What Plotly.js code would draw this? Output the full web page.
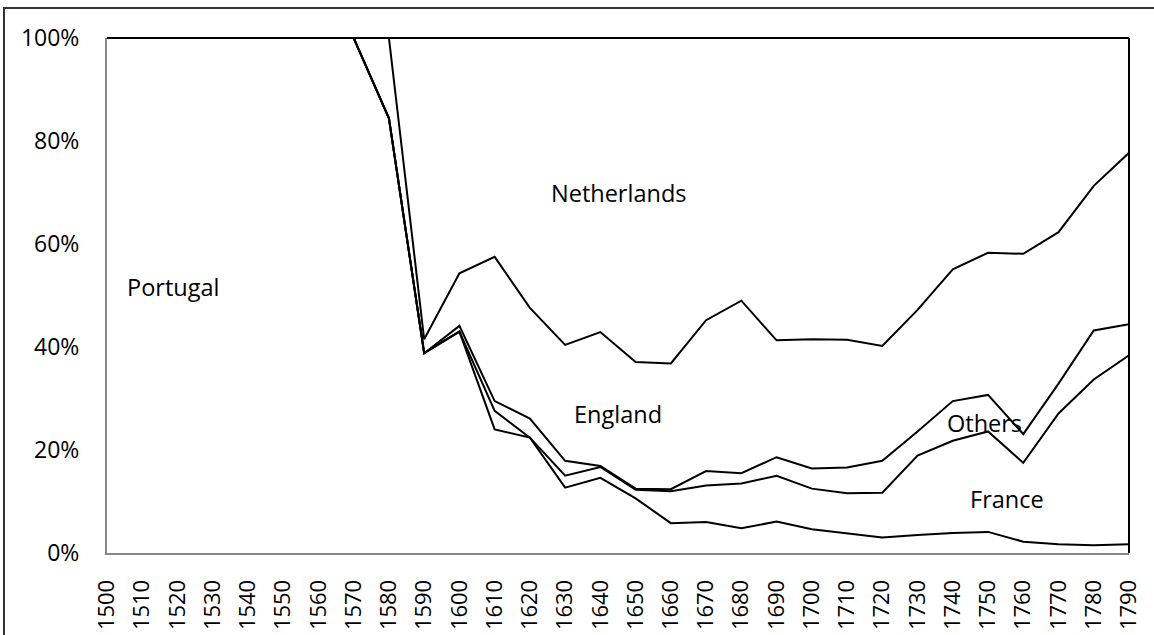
<!DOCTYPE html>
<html>
<head>
<meta charset="utf-8">
<script src="https://cdn.plot.ly/plotly-3.0.1.min.js"></script>
<style>html,body{margin:0;padding:0;background:#fff;}#chart{width:1154px;height:635px;}</style>
</head>
<body>
<div id="chart"></div>
<script>
// Decades
const years = [1500,1510,1520,1530,1540,1550,1560,1570,1580,1590,1600,1610,1620,1630,1640,1650,1660,1670,1680,1690,1700,1710,1720,1730,1740,1750,1760,1770,1780,1790];
// Shares (%) per country, stacked from bottom to top
const portugal    = [100,100,100,100,100,100,100,100,84.4,38.8,43.0,24.0,22.4,12.7,14.6,10.6,5.8,6.0,4.8,6.1,4.6,3.8,3.0,3.5,3.9,4.1,2.2,1.7,1.5,1.7];
const france      = [0,0,0,0,0,0,0,0,0,0,0,3.6,0,2.3,2.1,1.7,6.2,7.1,8.7,8.9,7.9,7.8,8.7,15.4,17.9,19.5,15.3,25.4,32.2,36.7];
const others      = [0,0,0,0,0,0,0,0,0,0,1.1,1.9,3.7,2.9,0.2,0.2,0.4,2.8,2.0,3.6,3.9,5.0,6.2,4.7,7.7,7.1,5.6,5.8,9.5,6.0];
const england     = [0,0,0,0,0,0,0,0,15.6,2.7,10.2,28.0,21.5,22.5,26.0,24.6,24.4,29.3,33.5,22.7,25.1,24.8,22.3,23.6,25.6,27.6,35.0,29.4,28.1,33.3];
const netherlands = [0,0,0,0,0,0,0,0,0,58.5,45.7,42.5,52.4,59.6,57.1,62.9,63.2,54.8,51.0,58.7,58.5,58.6,59.8,52.8,44.9,41.7,41.9,37.7,28.7,22.3];

const seriesNames = ['Portugal','France','Others','England','Netherlands'];
const seriesData = [portugal, france, others, england, netherlands];
const yTicks = [0,20,40,60,80,100];

const FONT = 'Open Sans, Noto Sans, sans-serif';

const traces = seriesData.map((vals, i) => ({
  type: 'scatter',
  mode: 'lines',
  name: seriesNames[i],
  x: years,
  y: vals,
  stackgroup: 'share',
  fill: 'none',
  line: {color: '#000000', width: 2},
  hoverinfo: 'x+y+name',
  cliponaxis: false
}));

// label positions (x in years, y in %)
const labels = [
  {text: 'Portugal', x: 1518.6, y: 51.7},
  {text: 'Netherlands', x: 1645, y: 69.9},
  {text: 'England', x: 1645, y: 26.9},
  {text: 'Others', x: 1749, y: 25.2},
  {text: 'France', x: 1755.5, y: 10.4}
];

const layout = {
  width: 1154, height: 635,
  margin: {l: 107, r: 25, t: 38, b: 82, pad: 0},
  paper_bgcolor: '#ffffff', plot_bgcolor: '#ffffff',
  showlegend: false,
  font: {family: FONT, size: 23, color: '#000000'},
  xaxis: {
    type: 'linear',
    range: [years[0], years[years.length-1]],
    tickvals: years,
    ticktext: years.map(String),
    tickangle: -90,
    showgrid: false, zeroline: false,
    showline: true, linecolor: '#868686', linewidth: 2,
    ticks: '',
    ticklabelstandoff: 16,
    tickfont: {family: FONT, size: 22, color: '#000000'}
  },
  yaxis: {
    range: [0, 100],
    tickvals: yTicks,
    ticktext: yTicks.map(v => v + '%'),
    showgrid: false, zeroline: false,
    showline: true, linecolor: '#868686', linewidth: 2,
    ticks: '',
    ticklabelstandoff: 21,
    tickfont: {family: FONT, size: 23, color: '#000000'}
  },
  annotations: labels.map(l => ({
    text: l.text, x: l.x, y: l.y, xref: 'x', yref: 'y',
    showarrow: false, xanchor: 'center', yanchor: 'middle',
    font: {family: FONT, size: 23.5, color: '#000000'}
  })),
  shapes: [
    // plot-area border: top and right
    {type: 'line', xref: 'paper', yref: 'paper', x0: 0, x1: 1, y0: 1, y1: 1, line: {color: '#000000', width: 2}},
    {type: 'line', xref: 'paper', yref: 'paper', x0: 1, x1: 1, y0: 0, y1: 1, line: {color: '#000000', width: 2}},
    // outer chart frame (extends past the picture on the right and bottom)
    {type: 'rect', xref: 'paper', yref: 'paper', x0: -0.1008, x1: 1.04, y0: -0.18, y1: 1.0583, line: {color: '#333333', width: 2}, fillcolor: 'rgba(0,0,0,0)', layer: 'below'}
  ]
};

Plotly.newPlot('chart', traces, layout, {displayModeBar: false, staticPlot: true});
</script>
</body>
</html>
